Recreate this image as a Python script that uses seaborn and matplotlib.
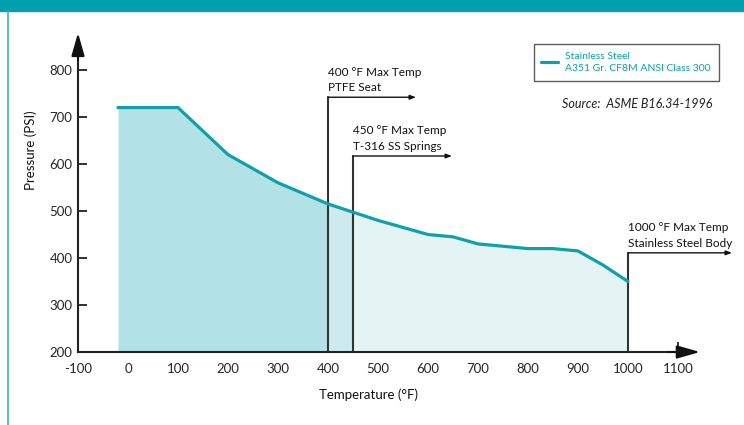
import numpy as np
import pandas as pd
import matplotlib
matplotlib.use("Agg")
import matplotlib.pyplot as plt
import matplotlib.patches as mpatches
import seaborn as sns

# pressure-temperature rating, CF8M class 300
temps = [-20, 100, 200, 300, 400, 500, 600, 650, 700, 750, 800, 850, 900, 950, 1000]
pressures = [720, 720, 620, 560, 515, 480, 450, 445, 430, 425, 420, 420, 415, 385, 350]

x_ticks = [-100, 0, 100, 200, 300, 400, 500, 600, 700, 800, 900, 1000, 1100]
y_ticks = [200, 300, 400, 500, 600, 700, 800]

limit_temps = [400, 450, 1000]
limit_labels = ["400 °F Max Temp\nPTFE Seat",
                "450 °F Max Temp\nT-316 SS Springs",
                "1000 °F Max Temp\nStainless Steel Body"]

TEAL = "#0fa0ab"
BANNER = "#00a0ae"

sns.set_theme(style="white")
plt.rcParams['font.family'] = ['Lato', 'DejaVu Sans']

df = pd.DataFrame({"temp": temps, "psi": pressures})

fig = plt.figure(figsize=(7.44, 4.25), dpi=100)
ax = fig.add_axes([0, 0, 1, 1])
ax.set_facecolor("none")
ax.set_xlim(-256, 1232)
ax.set_ylim(44.7, 948.9)

# shaded area under the curve, three tones split at the limit temps
zones = [(-20, 400, "#b3e2e6"), (400, 450, "#cdeaee"), (450, 1000, "#e4f4f5")]
for x0, x1, col in zones:
    poly = ax.fill_between(df["temp"], df["psi"], 200, color=col, lw=0, zorder=1)
    clip = mpatches.Rectangle((x0, 0), x1 - x0, 2000, transform=ax.transData)
    poly.set_clip_path(clip)

sns.lineplot(data=df, x="temp", y="psi", ax=ax, color=TEAL, lw=2.3, zorder=4,
             label="Stainless Steel\nA351 Gr. CF8M ANSI Class 300")

# axes as arrows
for s in ["top", "right"]:
    ax.spines[s].set_visible(False)
ax.spines["left"].set_position(("data", -100))
ax.spines["bottom"].set_position(("data", 200))
ax.spines["left"].set_bounds(200, 860)
ax.spines["bottom"].set_bounds(-100, 1120)
for s in ["left", "bottom"]:
    ax.spines[s].set_color("#222222")
    ax.spines[s].set_linewidth(1.5)
    ax.spines[s].set_zorder(5)
arrow = dict(arrowstyle="-|>,head_length=1.4,head_width=0.4", color="#111111",
             lw=1.5, shrinkA=0, shrinkB=0, mutation_scale=10)
ax.annotate("", xy=(-100, 879), xytext=(-100, 820), arrowprops=arrow, zorder=6)
ax.annotate("", xy=(1144, 200), xytext=(1080, 200), arrowprops=arrow, zorder=6)

ax.set_xticks(x_ticks)
ax.set_xticklabels([str(v) for v in x_ticks])
ax.set_yticks(y_ticks)
ax.set_yticklabels([str(v) for v in y_ticks])
ax.tick_params(axis="x", direction="in", length=7, width=1.3, color="#222222",
               pad=8, labelsize=9.5, bottom=True)
ax.tick_params(axis="y", direction="in", length=6.5, width=1.3, color="#222222",
               pad=4, labelsize=9.5, left=True)

ax.set_xlabel("Temperature (°F)", fontsize=9.5, color="#111111")
ax.set_ylabel("Pressure (PSI)", fontsize=9.5, color="#111111")
ax.xaxis.set_label_coords(0.495, 0.087)
ax.yaxis.set_label_coords(0.050, 0.647)

# limit markers with leader lines
tops = [742, 617, 411]
ends = [576, 648, 1208]
leader = dict(arrowstyle="-|>,head_length=0.35,head_width=0.13", color="#111111",
              lw=1.0, shrinkA=0, shrinkB=0, mutation_scale=10)
for t, top, end, lab in zip(limit_temps, tops, ends, limit_labels):
    ax.plot([t, t], [200, top], color="#333333", lw=1.5, zorder=3)
    ax.annotate("", xy=(end, top), xytext=(t, top), arrowprops=leader, zorder=3)
    ax.text(t, top + 8, lab, ha="left", va="bottom", fontsize=8.5,
            color="#111111", linespacing=1.55)

leg = ax.legend(loc="upper right", bbox_to_anchor=(0.966, 0.897), fontsize=7.5,
                frameon=True, fancybox=False, handlelength=1.6, handletextpad=0.7,
                borderpad=0.75, borderaxespad=0, labelcolor=TEAL)
for t in leg.get_texts():
    t.set_linespacing(1.55)
leg.get_frame().set_edgecolor("#333333")
leg.get_frame().set_linewidth(1.0)

ax.text(0.957, 0.755, "Source:  ASME B16.34-1996", transform=ax.transAxes,
        ha="right", va="center", fontsize=9, style="italic", color="#222222")

# page frame: banner on top and thin rule on the left
fig.patches.append(mpatches.Rectangle((0, 1 - 11 / 425), 1, 11 / 425,
                                      transform=fig.transFigure, color=BANNER, zorder=0))
fig.add_artist(plt.Line2D([8 / 744, 8 / 744], [0, 1 - 11 / 425],
                          transform=fig.transFigure, color="#3ab4c0", lw=1.2))

fig.savefig("out.png", dpi=100)
